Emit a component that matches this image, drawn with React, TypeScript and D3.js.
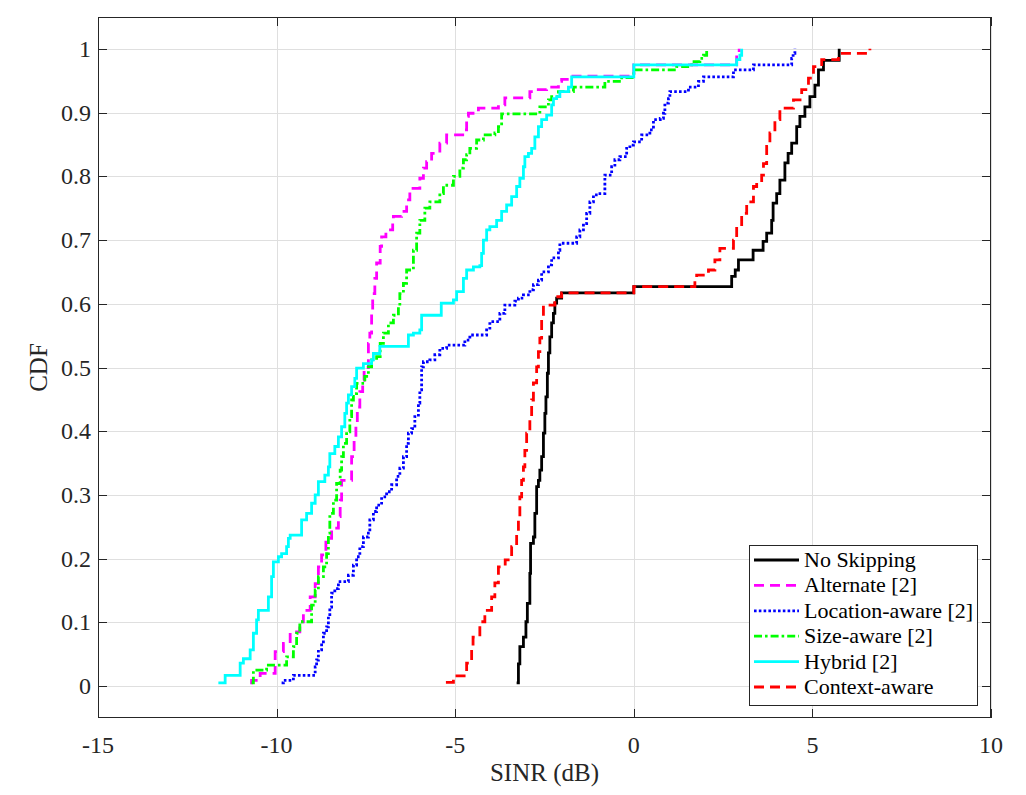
import React, { useEffect, useRef } from "react";
import * as d3 from "d3";

// axis ticks
const xTicks = [-15, -10, -5, 0, 5, 10];
const yTicks = [0, 0.1, 0.2, 0.3, 0.4, 0.5, 0.6, 0.7, 0.8, 0.9, 1];
const yTickLabels = ["0", "0.1", "0.2", "0.3", "0.4", "0.5", "0.6", "0.7", "0.8", "0.9", "1"];

const noSkipping: [number, number][] = [
  [-3.28, 0.005], [-3.23, 0.035], [-3.19, 0.062], [-3.09, 0.077], [-3.02, 0.101], [-2.98, 0.13],
  [-2.91, 0.177], [-2.89, 0.224], [-2.81, 0.234], [-2.77, 0.271], [-2.72, 0.313], [-2.67, 0.323],
  [-2.63, 0.339], [-2.58, 0.36], [-2.53, 0.397], [-2.49, 0.428], [-2.46, 0.454], [-2.42, 0.491],
  [-2.39, 0.523], [-2.35, 0.548], [-2.3, 0.57], [-2.25, 0.585], [-2.21, 0.601], [-2.16, 0.609],
  [-2.02, 0.617], [0, 0.627], [2.74, 0.643], [2.84, 0.653], [2.93, 0.669], [3.34, 0.684],
  [3.62, 0.698], [3.72, 0.711], [3.86, 0.731], [3.9, 0.758], [4.0, 0.773], [4.09, 0.794],
  [4.23, 0.821], [4.32, 0.836], [4.42, 0.852], [4.56, 0.878], [4.65, 0.894], [4.79, 0.909],
  [4.93, 0.925], [5.07, 0.943], [5.17, 0.967], [5.31, 0.982], [5.75, 1.0],
];

const alternate: [number, number][] = [
  [-10.74, 0.005], [-10.7, 0.009], [-10.46, 0.02], [-10.04, 0.054], [-9.81, 0.067], [-9.62, 0.085],
  [-9.35, 0.101], [-9.25, 0.119], [-9.06, 0.14], [-8.92, 0.161], [-8.83, 0.187], [-8.74, 0.206],
  [-8.62, 0.232], [-8.46, 0.248], [-8.27, 0.266], [-8.22, 0.292], [-8.18, 0.323], [-7.9, 0.36],
  [-7.83, 0.386], [-7.78, 0.412], [-7.74, 0.438], [-7.67, 0.462], [-7.59, 0.48], [-7.55, 0.5],
  [-7.43, 0.538], [-7.39, 0.554], [-7.34, 0.59], [-7.31, 0.616], [-7.25, 0.64], [-7.2, 0.664],
  [-7.1, 0.69], [-7.06, 0.705], [-6.94, 0.716], [-6.75, 0.729], [-6.73, 0.737], [-6.5, 0.745],
  [-6.36, 0.763], [-6.27, 0.781], [-5.99, 0.797], [-5.89, 0.813], [-5.8, 0.823], [-5.66, 0.836],
  [-5.43, 0.852], [-5.24, 0.865], [-4.73, 0.873], [-4.68, 0.894], [-4.63, 0.899], [-4.35, 0.907],
  [-3.79, 0.912], [-3.61, 0.923], [-2.91, 0.933], [-2.72, 0.936], [-2.44, 0.94], [-2.11, 0.949],
  [-2.02, 0.952], [-1.79, 0.957], [0, 0.975], [2.88, 0.99], [2.95, 1.0],
];

const locationAware: [number, number][] = [
  [-9.86, 0.005], [-9.81, 0.009], [-9.53, 0.017], [-8.92, 0.03], [-8.88, 0.041], [-8.83, 0.057],
  [-8.74, 0.067], [-8.69, 0.083], [-8.6, 0.093], [-8.55, 0.109], [-8.51, 0.124], [-8.46, 0.146],
  [-8.37, 0.153], [-8.27, 0.164], [-7.99, 0.174], [-7.85, 0.19], [-7.76, 0.203], [-7.67, 0.219],
  [-7.57, 0.234], [-7.43, 0.24], [-7.39, 0.261], [-7.29, 0.274], [-7.2, 0.284], [-7.06, 0.297],
  [-6.92, 0.305], [-6.78, 0.316], [-6.64, 0.329], [-6.55, 0.342], [-6.45, 0.36], [-6.36, 0.381],
  [-6.31, 0.397], [-6.22, 0.404], [-6.13, 0.423], [-6.03, 0.444], [-5.99, 0.465], [-5.94, 0.501],
  [-5.89, 0.509], [-5.71, 0.512], [-5.57, 0.52], [-5.43, 0.53], [-5.24, 0.535], [-4.73, 0.543],
  [-4.59, 0.551], [-4.12, 0.559], [-4.03, 0.572], [-3.75, 0.585], [-3.61, 0.598], [-3.33, 0.604],
  [-3.23, 0.609], [-3.09, 0.614], [-2.91, 0.622], [-2.81, 0.63], [-2.67, 0.637], [-2.58, 0.65],
  [-2.39, 0.661], [-2.3, 0.672], [-2.11, 0.684], [-2.07, 0.695], [-1.6, 0.705], [-1.51, 0.716],
  [-1.41, 0.726], [-1.32, 0.742], [-1.23, 0.76], [-1.13, 0.771], [-0.99, 0.773], [-0.81, 0.802],
  [-0.62, 0.815], [-0.53, 0.826], [-0.39, 0.831], [-0.2, 0.844], [-0.11, 0.849], [-0.01, 0.854],
  [0.22, 0.865], [0.45, 0.873], [0.55, 0.889], [0.74, 0.891], [0.83, 0.899], [0.87, 0.915],
  [0.97, 0.922], [1.01, 0.933], [1.53, 0.94], [1.81, 0.949], [1.95, 0.956], [2.79, 0.967],
  [3.35, 0.975], [4.42, 0.985], [4.46, 0.993], [4.51, 1.0],
];

const sizeAware: [number, number][] = [
  [-10.7, 0.005], [-10.65, 0.025], [-10.28, 0.033], [-9.72, 0.046], [-9.53, 0.062], [-9.44, 0.083],
  [-9.35, 0.101], [-9.02, 0.127], [-8.92, 0.151], [-8.83, 0.172], [-8.69, 0.187], [-8.6, 0.208],
  [-8.55, 0.24], [-8.51, 0.271], [-8.41, 0.292], [-8.32, 0.318], [-8.22, 0.339], [-8.18, 0.36],
  [-8.13, 0.381], [-8.04, 0.399], [-7.95, 0.423], [-7.9, 0.449], [-7.85, 0.459], [-7.76, 0.475],
  [-7.53, 0.486], [-7.43, 0.501], [-7.34, 0.512], [-7.2, 0.517], [-7.1, 0.538], [-7.01, 0.554],
  [-6.87, 0.57], [-6.73, 0.582], [-6.59, 0.595], [-6.55, 0.616], [-6.45, 0.632], [-6.36, 0.653],
  [-6.17, 0.684], [-6.08, 0.711], [-5.99, 0.731], [-5.85, 0.75], [-5.71, 0.76], [-5.43, 0.773],
  [-5.33, 0.786], [-5.05, 0.8], [-4.87, 0.813], [-4.77, 0.826], [-4.68, 0.834], [-4.59, 0.844],
  [-4.4, 0.857], [-4.21, 0.865], [-3.89, 0.868], [-3.79, 0.878], [-3.7, 0.898], [-2.63, 0.909],
  [-2.39, 0.92], [-2.3, 0.925], [-2.11, 0.933], [-1.69, 0.94], [-0.81, 0.949], [-0.34, 0.955],
  [0, 0.967], [1.2, 0.972], [1.62, 0.98], [1.85, 0.985], [1.95, 0.99], [2.04, 1.0],
];

const hybrid: [number, number][] = [
  [-11.63, 0.005], [-11.44, 0.017], [-11.02, 0.036], [-10.93, 0.043], [-10.74, 0.057], [-10.65, 0.083],
  [-10.56, 0.104], [-10.51, 0.119], [-10.23, 0.14], [-10.14, 0.172], [-10.09, 0.195], [-9.95, 0.203],
  [-9.86, 0.208], [-9.72, 0.219], [-9.67, 0.232], [-9.62, 0.237], [-9.3, 0.261], [-9.16, 0.271],
  [-9.02, 0.287], [-8.92, 0.3], [-8.83, 0.321], [-8.65, 0.331], [-8.55, 0.344], [-8.51, 0.365],
  [-8.37, 0.376], [-8.27, 0.391], [-8.18, 0.407], [-8.09, 0.428], [-8.04, 0.444], [-7.99, 0.457],
  [-7.9, 0.47], [-7.81, 0.483], [-7.76, 0.499], [-7.57, 0.506], [-7.34, 0.512], [-7.29, 0.522],
  [-7.11, 0.533], [-6.31, 0.551], [-6.17, 0.554], [-5.99, 0.559], [-5.94, 0.582], [-5.39, 0.601],
  [-5.05, 0.606], [-4.96, 0.619], [-4.77, 0.64], [-4.68, 0.653], [-4.49, 0.658], [-4.31, 0.66],
  [-4.26, 0.679], [-4.21, 0.7], [-4.12, 0.716], [-4.03, 0.721], [-3.84, 0.731], [-3.7, 0.745],
  [-3.56, 0.755], [-3.42, 0.768], [-3.28, 0.784], [-3.19, 0.797], [-3.09, 0.815], [-3.05, 0.831],
  [-2.95, 0.836], [-2.86, 0.844], [-2.77, 0.862], [-2.67, 0.878], [-2.58, 0.889], [-2.44, 0.896],
  [-2.3, 0.912], [-2.25, 0.922], [-2.16, 0.925], [-2.07, 0.933], [-1.83, 0.94], [-1.74, 0.956],
  [0, 0.975], [2.88, 0.983], [2.97, 0.99], [3.02, 1.0],
];

const contextAware: [number, number][] = [
  [-5.26, 0.006], [-5.05, 0.016], [-4.68, 0.036], [-4.54, 0.06], [-4.5, 0.077], [-4.31, 0.101],
  [-4.17, 0.119], [-3.98, 0.14], [-3.89, 0.162], [-3.79, 0.187], [-3.6, 0.198], [-3.42, 0.219],
  [-3.28, 0.24], [-3.23, 0.264], [-3.19, 0.297], [-3.14, 0.323], [-3.09, 0.344], [-3.05, 0.37],
  [-3.0, 0.397], [-2.91, 0.423], [-2.86, 0.449], [-2.81, 0.476], [-2.72, 0.501], [-2.67, 0.525],
  [-2.63, 0.546], [-2.58, 0.575], [-2.53, 0.598], [-2.21, 0.611], [-2.02, 0.617], [0, 0.627],
  [1.71, 0.637], [1.76, 0.645], [2.09, 0.653], [2.27, 0.669], [2.41, 0.687], [2.79, 0.7],
  [2.88, 0.721], [3.02, 0.742], [3.16, 0.76], [3.35, 0.784], [3.44, 0.79], [3.58, 0.802],
  [3.63, 0.82], [3.72, 0.847], [3.81, 0.868], [3.95, 0.889], [4.09, 0.907], [4.47, 0.92],
  [4.7, 0.936], [4.89, 0.954], [5.03, 0.972], [5.26, 0.983], [5.73, 0.993], [6.61, 1.0],
];

const seriesNames = [
  "No Skipping",
  "Alternate [2]",
  "Location-aware [2]",
  "Size-aware [2]",
  "Hybrid [2]",
  "Context-aware",
];
const seriesData = [noSkipping, alternate, locationAware, sizeAware, hybrid, contextAware];
const seriesColors = ["#000000", "#ff00ff", "#0000ff", "#00ff00", "#00ffff", "#ff0000"];
const seriesDashes = ["none", "10,6", "2.6,2.2", "8,3,2.6,3", "none", "10,6"];

const FONT = "'Liberation Serif', 'DejaVu Serif', serif";

function CdfChart() {
  const ref = useRef<SVGSVGElement | null>(null);
  const width = 1026;
  const height = 795;
  const plot = { left: 98, right: 991, top: 17, bottom: 718 };

  useEffect(() => {
    document.body.style.margin = "0";
    const svg = d3.select(ref.current);
    svg.selectAll("*").remove();

    const x = d3.scaleLinear().domain([-15, 10]).range([plot.left, plot.right]);
    const y = d3.scaleLinear().domain([-0.05, 1.05]).range([plot.bottom, plot.top]);

    svg.append("rect").attr("width", width).attr("height", height).attr("fill", "#fff");

    svg
      .append("clipPath")
      .attr("id", "plotClip")
      .append("rect")
      .attr("x", plot.left)
      .attr("y", plot.top)
      .attr("width", plot.right - plot.left)
      .attr("height", plot.bottom - plot.top);

    //grid
    const grid = svg.append("g").attr("stroke", "#dfdfdf").attr("stroke-width", 1);
    grid
      .selectAll(".gx")
      .data(xTicks)
      .enter()
      .append("line")
      .attr("x1", (d) => Math.round(x(d)) + 0.5)
      .attr("x2", (d) => Math.round(x(d)) + 0.5)
      .attr("y1", plot.top)
      .attr("y2", plot.bottom);
    grid
      .selectAll(".gy")
      .data(yTicks)
      .enter()
      .append("line")
      .attr("y1", (d) => Math.round(y(d)) + 0.5)
      .attr("y2", (d) => Math.round(y(d)) + 0.5)
      .attr("x1", plot.left)
      .attr("x2", plot.right);

    //cdf lines
    const line = d3
      .line<[number, number]>()
      .x((d) => x(d[0]))
      .y((d) => y(d[1]))
      .curve(d3.curveStepAfter);

    const lines = svg.append("g").attr("clip-path", "url(#plotClip)");
    seriesData.forEach((data, i) => {
      lines
        .append("path")
        .attr("fill", "none")
        .attr("stroke", seriesColors[i])
        .attr("stroke-width", 2.8)
        .attr("stroke-dasharray", seriesDashes[i])
        .attr("d", line(data));
    });

    //axes box + inward ticks
    const axisColor = "#262626";
    const tickLen = 9;
    svg
      .append("rect")
      .attr("x", plot.left + 0.5)
      .attr("y", plot.top + 0.5)
      .attr("width", plot.right - plot.left - 1)
      .attr("height", plot.bottom - plot.top - 1)
      .attr("fill", "none")
      .attr("stroke", axisColor)
      .attr("stroke-width", 1);

    const ticks = svg.append("g").attr("stroke", axisColor).attr("stroke-width", 1);
    xTicks.forEach((t) => {
      const px = Math.round(x(t)) + 0.5;
      ticks.append("line").attr("x1", px).attr("x2", px).attr("y1", plot.bottom).attr("y2", plot.bottom - tickLen);
      ticks.append("line").attr("x1", px).attr("x2", px).attr("y1", plot.top).attr("y2", plot.top + tickLen);
    });
    yTicks.forEach((t) => {
      const py = Math.round(y(t)) + 0.5;
      ticks.append("line").attr("y1", py).attr("y2", py).attr("x1", plot.left).attr("x2", plot.left + tickLen);
      ticks.append("line").attr("y1", py).attr("y2", py).attr("x1", plot.right).attr("x2", plot.right - tickLen);
    });

    //tick labels
    svg
      .append("g")
      .selectAll("text")
      .data(xTicks)
      .enter()
      .append("text")
      .attr("x", (d) => x(d))
      .attr("y", 753)
      .attr("text-anchor", "middle")
      .attr("font-family", FONT)
      .attr("font-size", 24)
      .attr("fill", axisColor)
      .text((d) => String(d));

    svg
      .append("g")
      .selectAll("text")
      .data(yTicks)
      .enter()
      .append("text")
      .attr("x", 91)
      .attr("y", (d) => y(d) + 8)
      .attr("text-anchor", "end")
      .attr("font-family", FONT)
      .attr("font-size", 24)
      .attr("fill", axisColor)
      .text((d, i) => yTickLabels[i]);

    //axis labels
    svg
      .append("text")
      .attr("x", (plot.left + plot.right) / 2)
      .attr("y", 781)
      .attr("text-anchor", "middle")
      .attr("font-family", FONT)
      .attr("font-size", 25)
      .attr("fill", axisColor)
      .text("SINR (dB)");

    svg
      .append("text")
      .attr("transform", `translate(47,${(plot.top + plot.bottom) / 2}) rotate(-90)`)
      .attr("text-anchor", "middle")
      .attr("font-family", FONT)
      .attr("font-size", 25)
      .attr("fill", axisColor)
      .text("CDF");

    //legend
    const legend = svg.append("g");
    legend
      .append("rect")
      .attr("x", 749.5)
      .attr("y", 545.5)
      .attr("width", 228)
      .attr("height", 160)
      .attr("fill", "#fff")
      .attr("stroke", axisColor)
      .attr("stroke-width", 1);

    const rowY = d3.scaleLinear().domain([0, 5]).range([560, 687]);
    seriesNames.forEach((name, i) => {
      legend
        .append("line")
        .attr("x1", 754)
        .attr("x2", 799)
        .attr("y1", rowY(i))
        .attr("y2", rowY(i))
        .attr("stroke", seriesColors[i])
        .attr("stroke-width", 2.8)
        .attr("stroke-dasharray", seriesDashes[i]);
      legend
        .append("text")
        .attr("x", 804)
        .attr("y", rowY(i) + 7)
        .attr("font-family", FONT)
        .attr("font-size", 22)
        .attr("fill", "#000")
        .text(name);
    });
  }, []);

  return <svg ref={ref} width={width} height={height} style={{ display: "block" }} />;
}

export default function App() {
  return <CdfChart />;
}
